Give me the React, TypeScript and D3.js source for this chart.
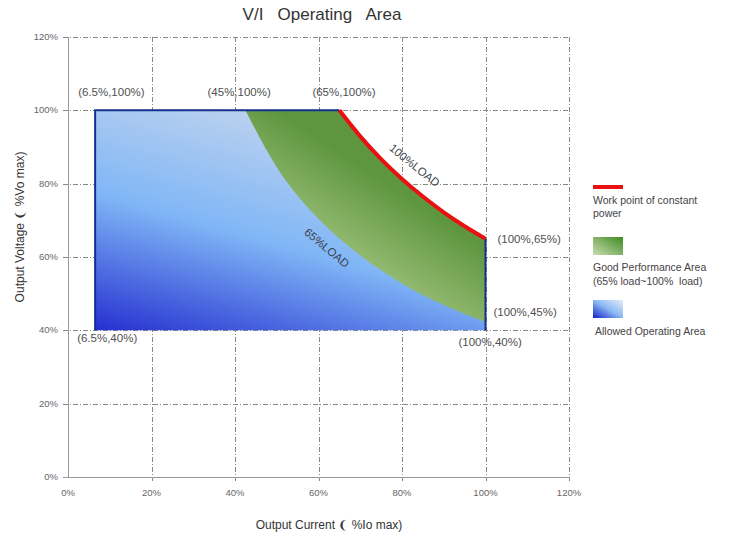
import React, { useEffect, useRef } from 'react'
import * as d3 from 'd3'

const xTicks = [0, 20, 40, 60, 80, 100, 120]
const yTicks = [0, 20, 40, 60, 80, 100, 120]

// outline of the allowed operating area (current %, voltage %)
const allowedLeft = [[100, 40], [6.5, 40], [6.5, 100], [65, 100]]
// 100% load (constant power) curve
const fullLoadCurve = [[65, 100], [70, 92.9], [75, 86.7], [80, 81.3], [85, 76.5], [90, 72.2], [95, 68.4], [100, 65]]
// 65% load curve
const partLoadCurve = [[42.5, 100], [50, 84.5], [60, 70.4], [70, 60.4], [80, 52.8], [90, 46.9], [100, 42.3]]

const pointLabels = [
  { text: '(6.5%,100%)', x: 6.5, y: 100, dx: -17, dy: -14, anchor: 'start' },
  { text: '(45%,100%)', x: 41, y: 100, dx: 0, dy: -14, anchor: 'middle' },
  { text: '(65%,100%)', x: 65, y: 100, dx: -27, dy: -14, anchor: 'start' },
  { text: '(100%,65%)', x: 100, y: 65, dx: 12, dy: 4, anchor: 'start' },
  { text: '(100%,45%)', x: 100, y: 45, dx: 8, dy: 4, anchor: 'start' },
  { text: '(100%,40%)', x: 100, y: 40, dx: -27, dy: 16, anchor: 'start' },
  { text: '(6.5%,40%)', x: 6.5, y: 40, dx: -18, dy: 12, anchor: 'start' }
]

const curveLabels = [
  { text: '100%LOAD', x: 83, y: 85, angle: 39 },
  { text: '65%LOAD', x: 62, y: 62.5, angle: 40 }
]

export default function App() {
  const svgRef = useRef<SVGSVGElement>(null)

  useEffect(() => {
    if (!svgRef.current) return
    const width = 740
    const height = 537
    const svg = d3.select(svgRef.current)
    svg.selectAll('*').remove()
    svg.attr('width', width).attr('height', height)
      .style('font-family', "'Liberation Sans', Arial, sans-serif")
      .style('display', 'block')

    const x = d3.scaleLinear().domain([0, 120]).range([68, 569])
    const y = d3.scaleLinear().domain([0, 120]).range([477, 37])

    const defs = svg.append('defs')
    const blue = defs.append('linearGradient').attr('id', 'blueGrad')
      .attr('x1', 0).attr('y1', 1).attr('x2', 0.5).attr('y2', 0)
    blue.append('stop').attr('offset', 0).attr('stop-color', '#2530d0')
    blue.append('stop').attr('offset', 0.5).attr('stop-color', '#80b6f6')
    blue.append('stop').attr('offset', 1).attr('stop-color', '#c0d4ee')

    const green = defs.append('linearGradient').attr('id', 'greenGrad')
      .attr('x1', 0.3).attr('y1', 0.75).attr('x2', 0.6).attr('y2', 0.35)
    green.append('stop').attr('offset', 0).attr('stop-color', '#a9c985')
    green.append('stop').attr('offset', 1).attr('stop-color', '#5e963f')

    const legGreen = defs.append('linearGradient').attr('id', 'legGreen')
      .attr('x1', 0).attr('y1', 1).attr('x2', 1).attr('y2', 0)
    legGreen.append('stop').attr('offset', 0).attr('stop-color', '#c8dcae')
    legGreen.append('stop').attr('offset', 1).attr('stop-color', '#3f8a25')

    const legBlue = defs.append('linearGradient').attr('id', 'legBlue')
      .attr('x1', 0).attr('y1', 1).attr('x2', 1).attr('y2', 0)
    legBlue.append('stop').attr('offset', 0).attr('stop-color', '#1020c8')
    legBlue.append('stop').attr('offset', 0.5).attr('stop-color', '#8ab8f4')
    legBlue.append('stop').attr('offset', 1).attr('stop-color', '#e4ecf6')

    // grid
    const grid = svg.append('g').attr('stroke', '#888').attr('stroke-width', 1)
      .attr('stroke-dasharray', '5,2,1,2')
    grid.selectAll('line.h').data(yTicks.filter(d => d > 0)).join('line')
      .attr('x1', x(0) - 5).attr('x2', x(120))
      .attr('y1', d => Math.round(y(d)) + 0.5).attr('y2', d => Math.round(y(d)) + 0.5)
    grid.selectAll('line.v').data(xTicks.filter(d => d > 0)).join('line')
      .attr('class', 'v')
      .attr('y1', y(120)).attr('y2', y(0) + 4)
      .attr('x1', d => Math.round(x(d)) + 0.5).attr('x2', d => Math.round(x(d)) + 0.5)

    // axes lines
    svg.append('line').attr('x1', x(0) + 0.5).attr('x2', x(0) + 0.5)
      .attr('y1', y(120)).attr('y2', y(0)).attr('stroke', '#999')
    svg.append('line').attr('x1', x(0) - 5).attr('x2', x(120))
      .attr('y1', y(0) + 0.5).attr('y2', y(0) + 0.5).attr('stroke', '#999')

    const line = d3.line<number[]>().x(d => x(d[0])).y(d => y(d[1]))
    const smooth = d3.line<number[]>().x(d => x(d[0])).y(d => y(d[1])).curve(d3.curveMonotoneX)

    // allowed area
    const allowedPath = line(allowedLeft)! + smooth(fullLoadCurve)!.replace(/^M/, 'L') + 'Z'
    svg.append('path').attr('d', allowedPath).attr('fill', 'url(#blueGrad)')

    // good performance band
    const band = smooth(fullLoadCurve)! + smooth(partLoadCurve.slice().reverse())!.replace(/^M/, 'L') + 'Z'
    svg.append('path').attr('d', band).attr('fill', 'url(#greenGrad)')

    // navy borders
    const border = svg.append('g').attr('fill', 'none').attr('stroke', '#14308f').attr('stroke-width', 2)
    border.append('path').attr('d', line([[6.5, 40], [6.5, 100], [65, 100]]))
    border.append('path').attr('d', line([[100, 65], [100, 40]]))

    // constant power curve
    svg.append('path').attr('d', smooth(fullLoadCurve)).attr('fill', 'none')
      .attr('stroke', '#e81010').attr('stroke-width', 4)

    // ticks labels
    const tickStyle = (s: any) => s.attr('font-size', 9.5).attr('fill', '#666')
    svg.append('g').selectAll('text').data(yTicks).join('text')
      .attr('x', x(0) - 10).attr('y', d => y(d) + 3).attr('text-anchor', 'end')
      .text(d => d + '%').call(tickStyle)
    svg.append('g').selectAll('text').data(xTicks).join('text')
      .attr('x', d => x(d)).attr('y', y(0) + 19).attr('text-anchor', 'middle')
      .text(d => d + '%').call(tickStyle)

    // point labels
    svg.append('g').selectAll('text').data(pointLabels).join('text')
      .attr('x', d => x(d.x) + d.dx).attr('y', d => y(d.y) + d.dy)
      .attr('text-anchor', d => d.anchor)
      .attr('font-size', 11.5).attr('fill', '#505050')
      .text(d => d.text)

    // curve labels
    svg.append('g').selectAll('text').data(curveLabels).join('text')
      .attr('transform', d => `translate(${x(d.x)},${y(d.y)}) rotate(${d.angle})`)
      .attr('text-anchor', 'middle').attr('dy', '0.35em').attr('font-size', 11.5)
      .attr('fill', '#3a4450')
      .text(d => d.text)

    // title
    svg.append('text').attr('x', 322).attr('y', 20).attr('text-anchor', 'middle')
      .attr('font-size', 17).attr('fill', '#333').style('white-space', 'pre')
      .text('V/I   Operating   Area')

    // axis titles
    svg.append('text').attr('transform', 'translate(24,227) rotate(-90)')
      .attr('text-anchor', 'middle').attr('font-size', 12).attr('fill', '#333')
      .style('white-space', 'pre')
      .text('Output Voltage ❨ %Vo max)')
    svg.append('text').attr('x', 329).attr('y', 529).attr('text-anchor', 'middle')
      .attr('font-size', 12).attr('fill', '#333').style('white-space', 'pre')
      .text('Output Current ❨ %Io max)')

    // legend
    const leg = svg.append('g').attr('font-size', 10.5).attr('fill', '#444')
    leg.append('rect').attr('x', 593).attr('y', 185).attr('width', 30).attr('height', 4).attr('fill', '#e81010')
    leg.append('text').attr('x', 593).attr('y', 204).text('Work point of constant')
    leg.append('text').attr('x', 593).attr('y', 217).text('power')
    leg.append('rect').attr('x', 593).attr('y', 237).attr('width', 30).attr('height', 18).attr('fill', 'url(#legGreen)')
    leg.append('text').attr('x', 593).attr('y', 271).text('Good Performance Area')
    leg.append('text').attr('x', 593).attr('y', 285).style('white-space', 'pre').text('(65% load~100%  load)')
    leg.append('rect').attr('x', 593).attr('y', 300).attr('width', 30).attr('height', 18).attr('fill', 'url(#legBlue)')
    leg.append('text').attr('x', 595).attr('y', 335).text('Allowed Operating Area')
  }, [])

  return <svg ref={svgRef} style={{ position: 'absolute', left: 0, top: 0 }}></svg>
}
